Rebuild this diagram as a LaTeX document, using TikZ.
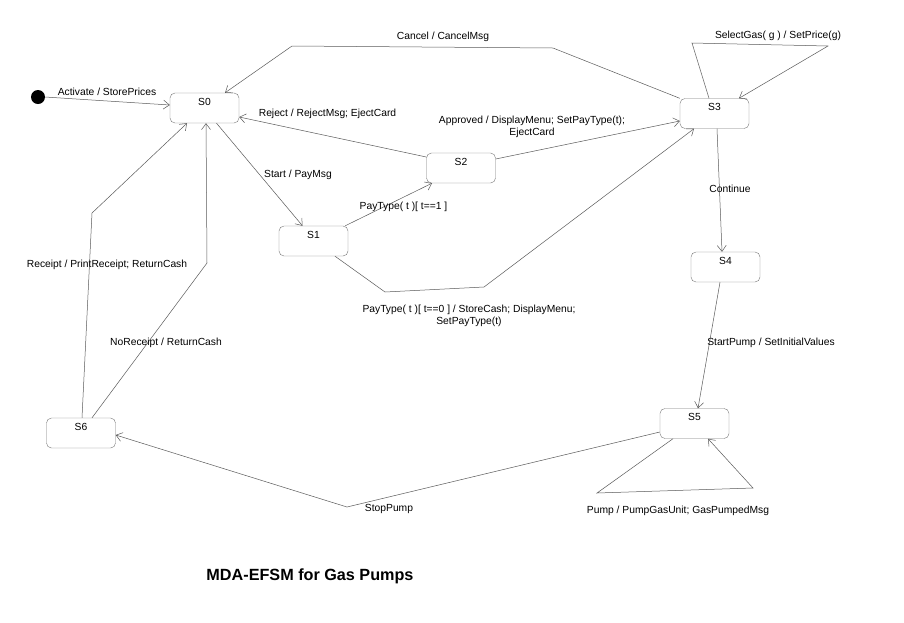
\documentclass[tikz,border=0pt]{standalone}
\usepackage{fontspec}
\setmainfont{Liberation Sans}
\usetikzlibrary{arrows.meta}
\definecolor{grisbord}{RGB}{120,120,120}
\definecolor{grisfleche}{RGB}{90,90,90}
\tikzstyle{etat}=[draw=grisbord,rounded corners=5pt,minimum width=69pt,inner sep=0,text height=12pt,text depth=18pt,font=\fontsize{10.3}{12}\selectfont]
\tikzstyle{trans}=[draw=grisfleche,line width=0.5pt,-{Straight Barb[length=6pt,width=9pt]}]
\tikzstyle{etiq}=[inner sep=0,align=center,font=\fontsize{10.3}{12}\selectfont]
\begin{document}
\begin{tikzpicture}[x=1pt,y=-1pt]
\useasboundingbox[fill=white] (0,0) rectangle (904,622);

% etats
\foreach \n/\x/\y in {S0/204.5/108,S1/313.5/241,S2/461/168,S3/714.5/113.5,S4/725.5/267,S5/694.5/423.5,S6/81/433}
  \node[etat] (\n) at (\x,\y) {\n};

\fill (38,97) circle (7pt);
\coordinate (init) at (45,97);

% transitions
\draw[trans] (init) -- ([yshift=3pt]S0.west);
\draw[trans] (S3.north west) -- (553,48) -- (292,46) -- ([xshift=20.5pt]S0.north);
\draw[trans] ([yshift=11pt]S2.west) -- ([yshift=-9pt]S0.east);
\draw[trans] ([xshift=12pt]S0.south) -- ([xshift=-11pt]S1.north);
\draw[trans] ([xshift=-3pt]S1.north east) -- ([xshift=-29pt]S2.south);
\draw[trans] ([yshift=9pt]S2.east) -- ([yshift=-7.5pt]S3.west);
\draw[trans] ([xshift=21.5pt]S1.south) -- (385,292) -- (484,287) -- ([xshift=-20.5pt]S3.south);
\draw[trans] ([xshift=-5.5pt]S3.north) -- (692,43) -- (828,46) -- ([xshift=24.5pt]S3.north);
\draw[trans] ([xshift=2.5pt]S3.south) -- ([xshift=-3.5pt]S4.north);
\draw[trans] ([xshift=-5.5pt]S4.south) -- ([xshift=3.5pt]S5.north);
\draw[trans] ([xshift=-21.5pt]S5.south) -- (597,493) -- (753,488) -- ([xshift=13.5pt]S5.south);
\draw[trans] ([yshift=-8.5pt]S5.west) -- (347,507) -- ([yshift=-2pt]S6.east);
\draw[trans] ([xshift=1pt]S6.north) -- (92,213) -- ([xshift=-17.5pt]S0.south);
\draw[trans] ([xshift=11pt]S6.north) -- (207,263) -- ([xshift=1.5pt]S0.south);

% etiquettes
\node[etiq] (eActivate) at (107,92) {Activate / StorePrices};
\node[etiq] (eCancel) at (443,37) {Cancel / CancelMsg};
\node[etiq] (eReject) at (327.5,114) {Reject / RejectMsg; EjectCard};
\node[etiq] (eStart) at (298,175) {Start / PayMsg};
\node[etiq] (ePay1) at (403.5,207) {PayType( t )[ t==1 ]};
\node[etiq] (eApproved) at (532,127) {Approved / DisplayMenu; SetPayType(t);\\EjectCard};
\node[etiq] (ePay0) at (469,316) {PayType( t )[ t==0 ] / StoreCash; DisplayMenu;\\SetPayType(t)};
\node[etiq] (eSelect) at (778,36) {SelectGas( g ) / SetPrice(g)};
\node[etiq] (eContinue) at (730,189) {Continue};
\node[etiq] (eStartPump) at (771,343) {StartPump / SetInitialValues};
\node[etiq] (ePump) at (678,511) {Pump / PumpGasUnit; GasPumpedMsg};
\node[etiq] (eStop) at (389,509) {StopPump};
\node[etiq] (eReceipt) at (107,265) {Receipt / PrintReceipt; ReturnCash};
\node[etiq] (eNoReceipt) at (166,343) {NoReceipt / ReturnCash};

% titre
\node[inner sep=0,font=\fontsize{16.2}{19}\selectfont\bfseries] (titre) at (310,576) {MDA-EFSM for Gas Pumps};
\end{tikzpicture}
\end{document}
